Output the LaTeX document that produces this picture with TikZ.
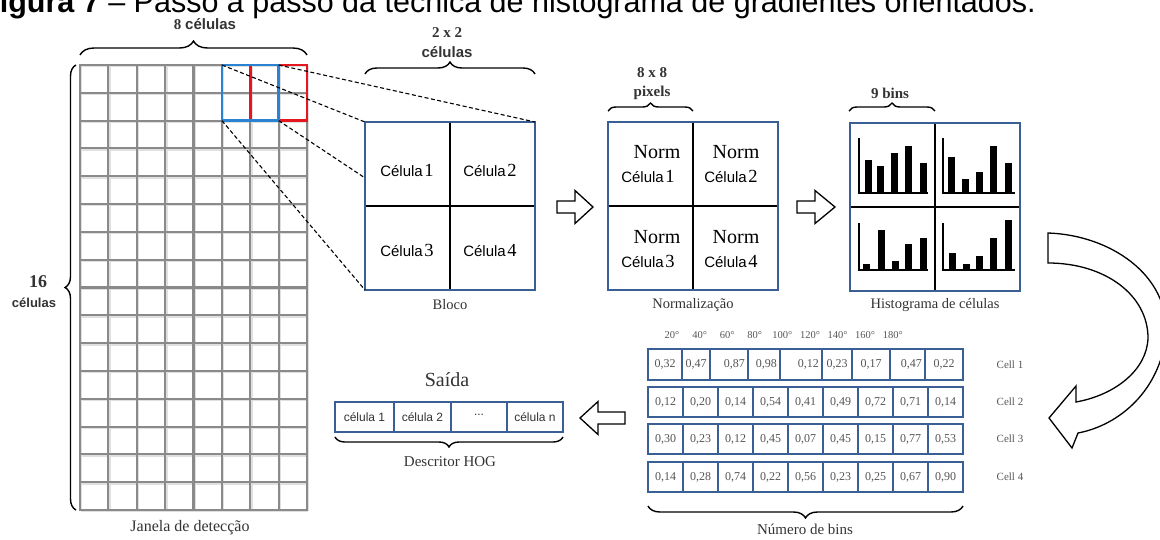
\documentclass[tikz,border=0pt]{standalone}
\usepackage{fontspec}
\setmainfont{Liberation Serif}
\setsansfont{Liberation Sans}
\usetikzlibrary{decorations.pathreplacing,calc}
\definecolor{boxblue}{HTML}{3A5F94}
\definecolor{hiblue}{HTML}{2A82D2}
\definecolor{hired}{HTML}{E5161D}
\definecolor{gridgray}{HTML}{8A8A8A}
\definecolor{txt}{HTML}{333333}
\definecolor{valtxt}{HTML}{555555}
\newcommand\celtxt[1]{{\sffamily\fontsize{15}{16}\selectfont Célula}\,{\fontsize{18.5}{19}\selectfont #1}}
\newcommand\normtxt{{\fontsize{20}{21}\selectfont Norm}}
\newcommand\rowvals[2]{%
  \foreach \v [count=\c from 0] in {#2} \node[val] at (665.5+\c*35,#1) {\v};}
\begin{document}
\begin{tikzpicture}[x=1pt,y=-1pt,
  bigbox/.style={fill=white, minimum width=170pt, minimum height=168pt, inner sep=0pt, outer sep=0pt},
  bigborder/.style={draw=boxblue, line width=2.6pt},
  divider/.style={line width=1.8pt, black},
  caption/.style={font=\fontsize{14.5}{16}\selectfont, text=txt, inner sep=0pt},
  boldlab/.style={font=\bfseries\fontsize{15}{16}\selectfont, text=txt, inner sep=0pt},
  bracestyle/.style={decorate, decoration={brace, amplitude=#1}, line width=1.4pt},
  dashline/.style={dash pattern=on 4pt off 2.5pt, line width=1.1pt},
  hollow/.style={draw=black, fill=white, line width=1.3pt, line join=miter},
  tabrow/.style={draw=boxblue, line width=1.8pt, fill=white},
  tabdiv/.style={draw=boxblue, line width=1.8pt},
  val/.style={font=\fontsize{12}{13}\selectfont, text=valtxt, inner sep=0pt},
  hdr/.style={font=\fontsize{10.5}{11}\selectfont, text=valtxt, inner sep=0pt},
  outcell/.style={font=\sffamily\fontsize{12}{13}\selectfont, text=txt, inner sep=0pt}
]
\useasboundingbox (0,0) rectangle (1160,539);
% title (cut off at the top)
\node[anchor=base west, inner sep=0pt, font=\sffamily\fontsize{30.5}{32}\selectfont] (title) at (-19,12) {\textbf{Figura 7} – Passo a passo da técnica de histograma de gradientes orientados.};

% ---------------- detection window grid
\begin{scope}[shift={(1,1)}, draw=black!12, line width=2.8pt]
\foreach \i in {0,...,8} \draw (80+\i*28.375,65) -- (80+\i*28.375,510);
\foreach \j in {0,...,16} \draw (80,65+\j*27.8125) -- (307,65+\j*27.8125);
\end{scope}
\begin{scope}[draw=gridgray, line width=2.1pt, line cap=rect]
\foreach \i in {0,...,8} \draw (80+\i*28.375,65) -- (80+\i*28.375,510);
\foreach \j in {0,...,16} \draw (80,65+\j*27.8125) -- (307,65+\j*27.8125);
\end{scope}
\draw[hired, line width=2.6pt] (250.25,65) rectangle (307,120.6);
\draw[hiblue, line width=2.6pt] (221.9,65) rectangle (278.6,120.6);
\coordinate (bTL) at (221.9,65);
\coordinate (bTR) at (278.6,65);
\coordinate (bBL) at (221.9,120.6);
\coordinate (bBR) at (278.6,120.6);

\draw[bracestyle=14pt] (80,55) -- (307,55);
\node[boldlab] (lab8) at (205,24) {8 {\sffamily células}};
\draw[bracestyle=11pt] (76,510) -- (76,65);
\node[boldlab, font=\bfseries\fontsize{18}{18}\selectfont] (lab16) at (38,282) {16};
\node[boldlab, font=\sffamily\bfseries\fontsize{13}{14}\selectfont] (lab16b) at (34,303) {células};
\node[caption, font=\fontsize{16}{17}\selectfont] (janela) at (190,528) {Janela de detecção};

% ---------------- bloco
\node[bigbox] (bloco) at (450,206) {};
\draw[divider] (bloco.north) -- (bloco.south);
\draw[divider] (bloco.west) -- (bloco.east);
\draw[bigborder] (bloco.north west) rectangle (bloco.south east);
\node (c1) at (407,170) {\celtxt{1}};
\node (c2) at (490,170) {\celtxt{2}};
\node (c3) at (407,250) {\celtxt{3}};
\node (c4) at (490,250) {\celtxt{4}};
\node[caption] (blocolab) at (450,305) {Bloco};
\draw[bracestyle=12pt] (365,74) -- (535,74);
\node[boldlab] (lab22) at (447,33) {2 x 2};
\node[boldlab, font=\sffamily\bfseries\fontsize{15}{16}\selectfont] (lab22b) at (447,52) {células};

\draw[dashline] (bTL) -- (bloco.north west);
\draw[dashline] (bTR) -- (bloco.north east);
\draw[dashline] (bBR) -- ($(bloco.north west)!0.333!(bloco.south west)$);
\draw[dashline] (bBL) -- (bloco.south west);

% arrow 1
\draw[hollow] (557,201) -- (575,201) -- (575,190.5) -- (593,207) -- (575,223.5) -- (575,213) -- (557,213) -- cycle;

% ---------------- normalizacao
\node[bigbox] (norm) at (693,206) {};
\draw[divider] (norm.north) -- (norm.south);
\draw[divider] (norm.west) -- (norm.east);
\draw[bigborder] (norm.north west) rectangle (norm.south east);
\node (n1) at (657,152) {\normtxt};
\node (n1b) at (648,176) {\celtxt{1}};
\node (n2) at (736,152) {\normtxt};
\node (n2b) at (731,176) {\celtxt{2}};
\node (n3) at (657,237) {\normtxt};
\node (n3b) at (648,261) {\celtxt{3}};
\node (n4) at (736,237) {\normtxt};
\node (n4b) at (731,261) {\celtxt{4}};
\node[caption] (normlab) at (693,305) {Normalização};
\draw[bracestyle=8pt] (608,111) -- (693,111);
\node[boldlab] (lab88) at (652,73) {8 x 8};
\node[boldlab] (lab88b) at (652,93) {pixels};

% arrow 2
\draw[hollow] (797,201) -- (815,201) -- (815,190.5) -- (835,207) -- (815,223.5) -- (815,213) -- (797,213) -- cycle;

% ---------------- histogramas
\node[bigbox] (hist) at (935,207) {};
\draw[divider] (hist.north) -- (hist.south);
\draw[divider] (hist.west) -- (hist.east);
\draw[bigborder] (hist.north west) rectangle (hist.south east);
\node[caption] (histlab) at (935,305) {Histograma de células};
\draw[bracestyle=8pt] (849,111) -- (935,111);
\node[boldlab] (lab9) at (890,93) {9 bins};
\begin{scope}[line width=1.8pt]
\draw (859,138) -- (859,193) -- (928,193);
\draw (943,138) -- (943,193) -- (1015,193);
\draw (859,223) -- (859,270) -- (928,270);
\draw (943,223) -- (943,270) -- (1015,270);
\end{scope}
\begin{scope}[fill=black]
\fill (865,160) rectangle (872,193);
\fill (877,166) rectangle (884,193);
\fill (891,153) rectangle (898,193);
\fill (905,146) rectangle (912,193);
\fill (920,163) rectangle (927,193);
\fill (948,157) rectangle (955,193);
\fill (962,179) rectangle (969,193);
\fill (976,172) rectangle (983,193);
\fill (990,146) rectangle (997,193);
\fill (1005,163) rectangle (1012,193);
\fill (863,264) rectangle (870,270);
\fill (878,230) rectangle (885,270);
\fill (892,261) rectangle (899,270);
\fill (905,244) rectangle (912,270);
\fill (920,238) rectangle (927,270);
\fill (949,253) rectangle (956,270);
\fill (963,264) rectangle (970,270);
\fill (976,256) rectangle (983,270);
\fill (990,238) rectangle (997,270);
\fill (1005,220) rectangle (1012,270);
\end{scope}

% big curved arrow
\draw[hollow] (1048,233) .. controls (1110,235) and (1170,275) .. (1166,335)
  .. controls (1160,390) and (1120,425) .. (1078,433)
  -- (1072,448) -- (1049,418) -- (1076,386) -- (1076,402)
  .. controls (1115,395) and (1147,370) .. (1148,338)
  .. controls (1148,295) and (1105,263) .. (1048,263) -- cycle;

% ---------------- table
\foreach \a [count=\k from 0] in {20,40,60,80,100,120,140,160,180}
  \node[hdr] (h\k) at (672+\k*27.6,335) {\a°};
% row 1 (irregular cells)
\draw[tabrow] (648,349) rectangle (963,380);
\foreach \x in {682,710,748,780,822,852,890,925} \draw[tabdiv] (\x,349) -- (\x,380);
\node[val] (r1a) at (665,364.5) {0,32};
\node[val] (r1b) at (696,364.5) {0,47};
\node[val, anchor=east] (r1c) at (745,364.5) {0,87};
\node[val, anchor=east] (r1d) at (777,364.5) {0,98};
\node[val, anchor=east] (r1e) at (819,364.5) {0,12};
\node[val] (r1f) at (837,364.5) {0,23};
\node[val] (r1g) at (871,364.5) {0,17};
\node[val, anchor=east] (r1h) at (922,364.5) {0,47};
\node[val] (r1i) at (944,364.5) {0,22};
\node[val, font=\fontsize{11}{12}\selectfont] (cell1) at (1010,364.5) {Cell 1};
% rows 2-4
\foreach \row/\ya/\yb in {2/387/417, 3/424/454, 4/462/492}{
  \draw[tabrow] (648,\ya) rectangle (963,\yb);
  \foreach \c in {1,...,8} \draw[tabdiv] (648+\c*35,\ya) -- (648+\c*35,\yb);
  \node[val, font=\fontsize{11}{12}\selectfont] (cell\row) at (1010,{(\ya+\yb)/2}) {Cell \row};
}
\rowvals{402}{{0,12},{0,20},{0,14},{0,54},{0,41},{0,49},{0,72},{0,71},{0,14}}
\rowvals{439}{{0,30},{0,23},{0,12},{0,45},{0,07},{0,45},{0,15},{0,77},{0,53}}
\rowvals{477}{{0,14},{0,28},{0,74},{0,22},{0,56},{0,23},{0,25},{0,67},{0,90}}
\draw[bracestyle=12pt] (963,506) -- (648,506);
\node[caption, font=\fontsize{15}{16}\selectfont] (binslab) at (805,529) {Número de bins};

% arrow 3
\draw[hollow] (580,418) -- (598,401.5) -- (598,412) -- (625,412) -- (625,424) -- (598,424) -- (598,434.5) -- cycle;

% ---------------- output
\node[caption, font=\fontsize{20}{21}\selectfont] (saida) at (447,380) {Saída};
\draw[tabrow] (335,402) rectangle (563,432);
\foreach \x in {394,451,507} \draw[tabdiv] (\x,402) -- (\x,432);
\node[outcell] (o1) at (364.5,417) {célula 1};
\node[outcell] (o2) at (422.5,417) {célula 2};
\node[outcell] (o3) at (479,415) {...};
\node[outcell] (o4) at (535,417) {célula n};
\draw[bracestyle=10pt] (563,437) -- (335,437);
\node[caption, font=\fontsize{15}{16}\selectfont] (desc) at (450,462) {Descritor HOG};
\end{tikzpicture}
\end{document}
